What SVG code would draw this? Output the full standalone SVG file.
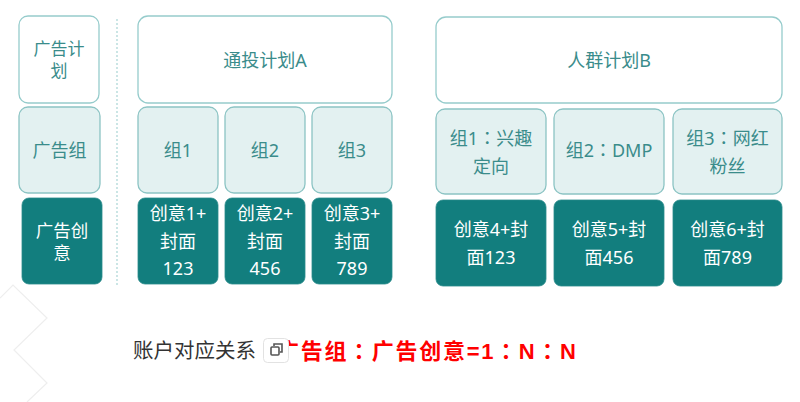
<svg xmlns="http://www.w3.org/2000/svg" width="800" height="402" viewBox="0 0 800 402">
<style>
  text { font-family: "Noto Sans", "Noto Sans CJK SC", sans-serif; text-anchor: middle; }
  .c { font-family: "Noto Sans CJK TC", "Noto Sans CJK SC", sans-serif; }
  .w { fill: #ffffff; stroke: #96cccc; stroke-width: 1.3; }
  .l { fill: #e3f1f1; stroke: #8cc4c4; stroke-width: 1.3; }
  .d { fill: #127e7e; stroke: #2a8a8a; stroke-width: 0.8; }
  .tl { fill: #3a8c8b; font-size: 18px; }
  .td { fill: #ffffff; font-size: 18px; }
</style>
<rect width="800" height="402" fill="#ffffff"/>
<polyline points="0,298 13,285 47,318 14,350 47,383 27,402" fill="none" stroke="#eeeeee" stroke-width="1.2"/>
<line x1="117" y1="19" x2="117" y2="285" stroke="#a9d5d5" stroke-width="1.2" stroke-dasharray="2,2"/>
<g id="legend-plan"><rect class="w" x="19" y="16" width="80" height="87" rx="9"/><text class="tl" x="59" y="55" style="font-size:17px">广告计</text><text class="tl" x="59" y="77" style="font-size:17px">划</text></g>
<g id="legend-group"><rect class="l" x="19" y="107" width="81" height="86" rx="9"/><text class="tl" x="59.5" y="156.5">广告组</text></g>
<g id="legend-creative"><rect class="d" x="22" y="198" width="80" height="86" rx="7"/><text class="td" x="62" y="236.5" style="font-size:17.5px">广告创</text><text class="td" x="62" y="259" style="font-size:17.5px">意</text></g>
<g id="planA"><rect class="w" x="138" y="16" width="254" height="87" rx="10"/><text class="tl" x="265" y="66.5">通投计划A</text></g>
<g id="a-g1"><rect class="l" x="138" y="107" width="80" height="86" rx="9"/><text class="tl" x="178" y="156.5">组1</text></g>
<g id="a-g2"><rect class="l" x="225" y="107" width="80" height="86" rx="9"/><text class="tl" x="265" y="156.5">组2</text></g>
<g id="a-g3"><rect class="l" x="312" y="107" width="80" height="86" rx="9"/><text class="tl" x="352" y="156.5">组3</text></g>
<g id="a-c1"><rect class="d" x="138" y="198" width="80" height="86" rx="7"/><text class="td" x="178" y="219.5">创意1+</text><text class="td" x="178" y="247.5">封面</text><text class="td" x="178" y="274.5">123</text></g>
<g id="a-c2"><rect class="d" x="225" y="198" width="80" height="86" rx="7"/><text class="td" x="265" y="219.5">创意2+</text><text class="td" x="265" y="247.5">封面</text><text class="td" x="265" y="274.5">456</text></g>
<g id="a-c3"><rect class="d" x="312" y="198" width="80" height="86" rx="7"/><text class="td" x="352" y="219.5">创意3+</text><text class="td" x="352" y="247.5">封面</text><text class="td" x="352" y="274.5">789</text></g>
<g id="planB"><rect class="w" x="436" y="17" width="346" height="86" rx="10"/><text class="tl" x="609" y="66.5">人群计划B</text></g>
<g id="b-g1"><rect class="l" x="436" y="109" width="110" height="85" rx="9"/><text class="tl" x="491" y="144.5">组1<tspan class="c">：</tspan>兴趣</text><text class="tl" x="491" y="172.5">定向</text></g>
<g id="b-g2"><rect class="l" x="554" y="109" width="110" height="85" rx="9"/><text class="tl" x="609" y="156.5">组2<tspan class="c">：</tspan>DMP</text></g>
<g id="b-g3"><rect class="l" x="673" y="109" width="109" height="85" rx="9"/><text class="tl" x="727.5" y="144.5">组3<tspan class="c">：</tspan>网红</text><text class="tl" x="727.5" y="172.5">粉丝</text></g>
<g id="b-c1"><rect class="d" x="436" y="200" width="110" height="86" rx="7"/><text class="td" x="491" y="235.5">创意4+封</text><text class="td" x="491" y="263.5">面123</text></g>
<g id="b-c2"><rect class="d" x="554" y="200" width="110" height="86" rx="7"/><text class="td" x="609" y="235.5">创意5+封</text><text class="td" x="609" y="263.5">面456</text></g>
<g id="b-c3"><rect class="d" x="673" y="200" width="109" height="86" rx="7"/><text class="td" x="727.5" y="235.5">创意6+封</text><text class="td" x="727.5" y="263.5">面789</text></g>
<g id="caption">
  <text x="133" y="358" style="text-anchor:start;font-size:20.5px;fill:#333333">账户对应关系</text>
  <text x="277" y="359" textLength="299" lengthAdjust="spacing" style="text-anchor:start;font-size:22px;font-weight:bold;fill:#ff0000;font-family:'Liberation Sans','Noto Sans CJK SC',sans-serif">广告组<tspan class="c">：</tspan>广告创意=1<tspan class="c">：</tspan>N<tspan class="c">：</tspan>N</text>
  <rect x="263.5" y="338.5" width="25" height="24" rx="4" fill="#ffffff" stroke="#e2e2e2" stroke-width="1"/>
  <path d="M274,346 V344 H282 V352 H280" fill="none" stroke="#555555" stroke-width="1.6"/>
  <rect x="271" y="347" width="8" height="8" rx="1" fill="none" stroke="#555555" stroke-width="1.6"/>
</g>
</svg>
